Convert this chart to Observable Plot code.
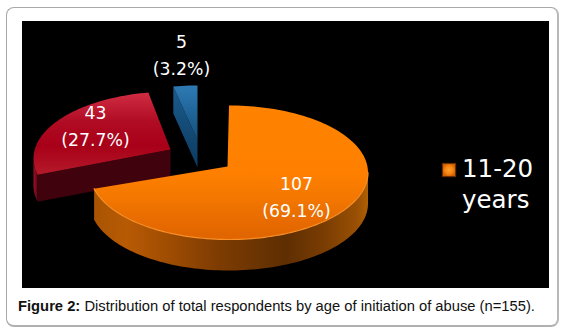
<!DOCTYPE html>
<html>
<head>
<meta charset="utf-8">
<script src="https://cdn.jsdelivr.net/npm/d3@7"></script>
<script src="https://cdn.jsdelivr.net/npm/@observablehq/plot@0.6"></script>
<style>
  html,body{margin:0;padding:0;background:#fff;width:567px;height:335px;overflow:hidden}
  #frame{position:absolute;left:6px;top:7px;width:553px;height:320px;box-sizing:border-box;
    border:1px solid #a8a8a8;border-right:2px solid #b8b8b8;border-bottom:2px solid #b0b0b0;border-radius:8px}
  #chart{position:absolute;left:22px;top:21px;width:527px;height:267px}
  #chart svg{display:block}
  #caption{position:absolute;left:18px;top:297px;width:530px;white-space:nowrap;
    font:14.75px/18px "Liberation Sans",Arial,sans-serif;color:#111}
</style>
</head>
<body>
<div id="frame"></div>
<div id="chart"></div>
<div id="caption"><b>Figure 2:</b> Distribution of total respondents by age of initiation of abuse (n=155).</div>
<script>
// Data
const counts = [107, 43, 5];
const percents = [69.1, 27.7, 3.2];
const legendLines = ["11-20", "years"];

// Pseudo-3D layout of each wedge, in page pixels
const rx = 139, ry = 67;
const centreX = [228.5, 172, 197];
const centreY = [172, 158, 152];
const apexX = [227, 170, 197];
const apexY = [166, 149, 140];
const depth = [31, 27, 27];
const labelX = [296, 95, 181];
const labelY = [194, 123, 52];
// perspective correction of the wedge boundaries on the tilted rim, radians
const rimShift = [0.131, 0.028];

const total = d3.sum(counts);
const ends = d3.cumsum(counts).map((c, i) => (c / total) * 2 * Math.PI + (rimShift[i] || 0));
const starts = [0, ...ends.slice(0, -1)];

function arc(i, a0, a1, dy = 0) {
  const n = Math.max(2, Math.ceil(Math.abs(a1 - a0) / 0.03));
  return d3.range(n + 1).map(k => {
    const a = a0 + (a1 - a0) * k / n;
    return {x: centreX[i] + rx * Math.sin(a), y: centreY[i] - ry * Math.cos(a) + dy};
  });
}
const apex = (i, dy = 0) => ({x: apexX[i], y: apexY[i] + dy});

// Top surfaces
const surface = i => [apex(i), ...arc(i, starts[i], ends[i])];
// Cut face from the apex to a rim angle, extruded downwards
const face = (i, a) => {
  const [p] = arc(i, a, a + 0.1);
  return [apex(i), p, {x: p.x, y: p.y + depth[i]}, apex(i, depth[i])];
};
// Outer wall between two rim angles
const wall = (i, a0, a1) => [...arc(i, a0, a1), ...arc(i, a1, a0, depth[i])];

const orangeWall = wall(0, Math.PI / 2, ends[0]);
const orangeRim = arc(0, Math.PI / 2, ends[0]);
const redWall = wall(1, starts[1], 1.5 * Math.PI);
const redFace = face(1, starts[1]);
const blueFace = face(2, starts[2]);

const stops = s => s.map(([o, c]) => `<stop offset="${o}" stop-color="${c}"/>`).join("");
function defs() {
  const g = d3.create("svg:g");
  g.html(`<defs>
    <linearGradient id="oTop" x1="0" y1="0" x2="0" y2="1">${stops([[0,"#ff8200"],[0.5,"#ff8000"],[0.68,"#f47800"],[0.85,"#e86c00"],[1,"#e06400"]])}</linearGradient>
    <linearGradient id="oWall" x1="0" y1="0" x2="1" y2="0">${stops([[0,"#a85402"],[0.12,"#b85a04"],[0.3,"#9a4a02"],[0.45,"#7e3c02"],[0.7,"#5e2e02"],[0.85,"#7c3e02"],[0.96,"#9a5004"],[1,"#b06004"]])}</linearGradient>
    <linearGradient id="rTop" x1="0" y1="0" x2="0" y2="1">${stops([[0,"#d02c42"],[0.35,"#b00c24"],[0.65,"#a80018"],[1,"#b41a2a"]])}</linearGradient>
    <linearGradient id="rWall" x1="0" y1="0" x2="1" y2="0">${stops([[0,"#a01028"],[1,"#5c0414"]])}</linearGradient>
    <linearGradient id="bTop" x1="0" y1="0" x2="0" y2="1">${stops([[0,"#2f7ab4"],[0.5,"#1f6498"],[1,"#154f7c"]])}</linearGradient>
    <linearGradient id="bFace" x1="0" y1="0" x2="0" y2="1">${stops([[0,"#1c5c8c"],[1,"#0c3a60"]])}</linearGradient>
    <radialGradient id="swatch">${stops([[0,"#ffa030"],[0.6,"#f88410"],[1,"#d06000"]])}</radialGradient>
  </defs>`);
  return g.node();
}

const poly = (pts, fill) => Plot.line(pts, {x: "x", y: "y", fill, stroke: "none", curve: "linear"});
const labels = counts.map((c, i) => ({x: labelX[i], y: labelY[i], text: `${c}\n(${percents[i].toFixed(1)}%)`}));

const fig = Plot.plot({
  width: 527, height: 267,
  margin: 0,
  x: {domain: [22, 549], range: [0, 527], axis: null},
  y: {domain: [21, 288], range: [0, 267], axis: null},
  style: {background: "#000", overflow: "hidden"},
  marks: [
    defs,
    // blue wedge
    poly(blueFace, "url(#bFace)"),
    poly(surface(2), "url(#bTop)"),
    // red wedge
    poly(redWall, "url(#rWall)"),
    poly(redFace, "#40020c"),
    poly(surface(1), "url(#rTop)"),
    // orange wedge
    poly(orangeWall, "url(#oWall)"),
    poly(surface(0), "url(#oTop)"),
    Plot.line(orangeRim, {x: "x", y: "y", stroke: "#f89028", strokeWidth: 1.2}),
    // value labels
    Plot.text(labels, {
      x: "x", y: "y", text: "text", fill: "#fff", fontSize: 17.3,
      fontFamily: "'DejaVu Sans'", lineHeight: 1.56, textAnchor: "middle"
    }),
    // legend
    Plot.dot([{x: 448.5, y: 169.5}], {x: "x", y: "y", symbol: "square", r: 7.5, fill: "url(#swatch)", stroke: "#6a2e00", strokeWidth: 1}),
    Plot.text(legendLines.map((t, i) => ({t, y: 169 + i * 31})), {
      x: () => 461.5, y: "y", text: "t", fill: "#fff", fontSize: 24.5,
      fontFamily: "'DejaVu Sans'", textAnchor: "start"
    })
  ]
});
document.getElementById("chart").append(fig);
</script>
</body>
</html>
